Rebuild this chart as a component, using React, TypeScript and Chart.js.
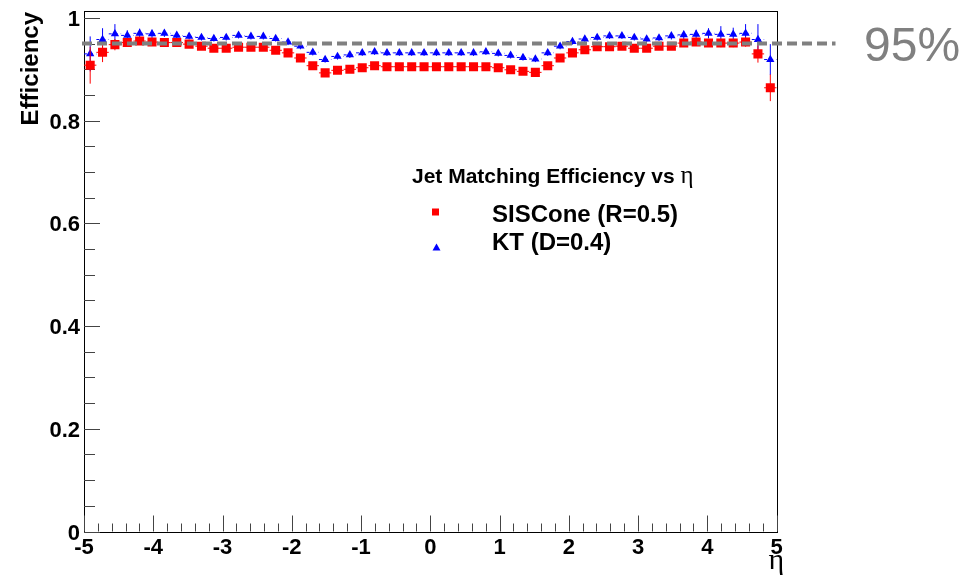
import React, { useEffect, useRef } from "react";
import { Chart, registerables } from "chart.js";

Chart.register(...registerables);

// ---- data ----
const etaCenters = [
  -4.9107, -4.7321, -4.5536, -4.375, -4.1964, -4.0179, -3.8393, -3.6607, -3.4821, -3.3036,
  -3.125, -2.9464, -2.7679, -2.5893, -2.4107, -2.2321, -2.0536, -1.875, -1.6964, -1.5179,
  -1.3393, -1.1607, -0.9821, -0.8036, -0.625, -0.4464, -0.2679, -0.0893, 0.0893, 0.2679,
  0.4464, 0.625, 0.8036, 0.9821, 1.1607, 1.3393, 1.5179, 1.6964, 1.875, 2.0536,
  2.2321, 2.4107, 2.5893, 2.7679, 2.9464, 3.125, 3.3036, 3.4821, 3.6607, 3.8393,
  4.0179, 4.1964, 4.375, 4.5536, 4.7321, 4.9107,
];
const binHalfWidth = 0.0893;

const sisconeEff = [
  0.908, 0.933, 0.948, 0.952, 0.955, 0.953, 0.952, 0.952, 0.949, 0.945,
  0.941, 0.941, 0.943, 0.943, 0.943, 0.937, 0.932, 0.922, 0.907, 0.893,
  0.898, 0.900, 0.903, 0.907, 0.905, 0.905, 0.905, 0.905, 0.905, 0.905,
  0.905, 0.905, 0.905, 0.903, 0.899, 0.896, 0.894, 0.907, 0.922, 0.932,
  0.938, 0.944, 0.944, 0.945, 0.941, 0.941, 0.945, 0.945, 0.951, 0.953,
  0.951, 0.951, 0.951, 0.953, 0.930, 0.864,
];
const sisconeErr = [
  0.036, 0.019, 0.011, 0.008, 0.007, 0.007, 0.006, 0.006, 0.006, 0.006,
  0.006, 0.006, 0.006, 0.006, 0.006, 0.006, 0.006, 0.006, 0.006, 0.006,
  0.006, 0.006, 0.006, 0.006, 0.006, 0.006, 0.006, 0.006, 0.006, 0.006,
  0.006, 0.006, 0.006, 0.006, 0.006, 0.006, 0.006, 0.006, 0.006, 0.006,
  0.006, 0.006, 0.006, 0.006, 0.006, 0.006, 0.006, 0.006, 0.007, 0.007,
  0.007, 0.008, 0.008, 0.009, 0.017, 0.026,
];

const ktEff = [
  0.930, 0.958, 0.969, 0.966, 0.970, 0.969, 0.970, 0.966, 0.964, 0.962,
  0.960, 0.962, 0.966, 0.964, 0.964, 0.960, 0.953, 0.945, 0.933, 0.919,
  0.925, 0.928, 0.932, 0.934, 0.932, 0.932, 0.932, 0.932, 0.932, 0.932,
  0.932, 0.932, 0.934, 0.931, 0.927, 0.923, 0.920, 0.932, 0.945, 0.954,
  0.959, 0.962, 0.965, 0.965, 0.962, 0.959, 0.961, 0.965, 0.967, 0.968,
  0.970, 0.968, 0.968, 0.970, 0.958, 0.919,
];
const ktErr = [
  0.034, 0.022, 0.019, 0.010, 0.009, 0.008, 0.007, 0.006, 0.006, 0.006,
  0.006, 0.006, 0.006, 0.006, 0.006, 0.006, 0.006, 0.006, 0.006, 0.006,
  0.006, 0.006, 0.006, 0.006, 0.006, 0.006, 0.006, 0.006, 0.006, 0.006,
  0.006, 0.006, 0.006, 0.006, 0.006, 0.006, 0.006, 0.006, 0.006, 0.006,
  0.006, 0.006, 0.006, 0.006, 0.006, 0.006, 0.006, 0.007, 0.008, 0.009,
  0.010, 0.016, 0.013, 0.018, 0.030, 0.030,
];

const xTickValues = [-5, -4, -3, -2, -1, 0, 1, 2, 3, 4, 5];
const xTickLabels = ["-5", "-4", "-3", "-2", "-1", "0", "1", "2", "3", "4", "5"];
const yTickValues = [0, 0.2, 0.4, 0.6, 0.8, 1];
const yTickLabels = ["0", "0.2", "0.4", "0.6", "0.8", "1"];

const referenceLevel = 0.95;
const referenceLabel = "95%";
const legendTitle = "Jet Matching Efficiency vs ";
const legendTitleGreek = "η";
const xAxisTitle = "η";
const yAxisTitle = "Efficiency";
const seriesNames = ["SISCone (R=0.5)", "KT (D=0.4)"];

const SANS = "'Liberation Sans', Arial, Helvetica, sans-serif";
const SERIF = "'Liberation Serif', 'DejaVu Serif', serif";

const rootPlugin = {
  id: "rootStyle",
  beforeDatasetsDraw(chart: any) {
    const { ctx, chartArea: a, scales } = chart;
    const xs = scales.x;
    const ys = scales.y;
    ctx.save();
    // frame
    ctx.strokeStyle = "#000";
    ctx.lineWidth = 1;
    ctx.strokeRect(Math.round(a.left) + 0.5, Math.round(a.top) + 0.5, Math.round(a.right - a.left), Math.round(a.bottom - a.top));
    // x ticks
    ctx.strokeStyle = "#444";
    for (let k = -25; k <= 25; k++) {
      const v = k * 0.2;
      const px = Math.round(xs.getPixelForValue(v)) + 0.5;
      const major = k % 5 === 0;
      const len = major ? 16 : 8;
      ctx.beginPath();
      ctx.moveTo(px, a.bottom);
      ctx.lineTo(px, a.bottom - len);
      ctx.stroke();
    }
    // y ticks
    for (let k = 0; k <= 20; k++) {
      const v = k * 0.05;
      const py = Math.round(ys.getPixelForValue(v)) + 0.5;
      const major = k % 4 === 0;
      const len = major ? 16 : 11;
      ctx.beginPath();
      ctx.moveTo(a.left, py);
      ctx.lineTo(a.left + len, py);
      ctx.stroke();
    }
    ctx.restore();
  },
  beforeDatasetDraw(chart: any, args: any) {
    const { ctx, scales } = chart;
    const xs = scales.x;
    const ys = scales.y;
    const ds = chart.data.datasets[args.index];
    const errs: number[] = ds.errors;
    ctx.save();
    ctx.strokeStyle = ds.borderColor;
    ctx.lineWidth = 1;
    ds.data.forEach((p: any, i: number) => {
      const x = xs.getPixelForValue(p.x);
      const xl = xs.getPixelForValue(p.x - binHalfWidth);
      const xr = xs.getPixelForValue(p.x + binHalfWidth);
      const y = ys.getPixelForValue(p.y);
      const yl = ys.getPixelForValue(p.y - errs[i]);
      const yh = ys.getPixelForValue(p.y + errs[i]);
      ctx.setLineDash(ds.errDash || []);
      ctx.beginPath();
      ctx.moveTo(xl, y);
      ctx.lineTo(xr, y);
      ctx.stroke();
      ctx.setLineDash([]);
      ctx.beginPath();
      ctx.moveTo(x, yh);
      ctx.lineTo(x, yl);
      ctx.stroke();
    });
    ctx.restore();
  },
  afterDatasetsDraw(chart: any) {
    const { ctx, chartArea: a, scales } = chart;
    const ys = scales.y;
    const py = ys.getPixelForValue(referenceLevel);
    ctx.save();
    ctx.strokeStyle = "#808080";
    ctx.lineWidth = 4;
    ctx.setLineDash([10, 5]);
    ctx.beginPath();
    ctx.moveTo(a.left - 2, py);
    ctx.lineTo(a.right + 59, py);
    ctx.stroke();
    ctx.restore();
  },
  afterDraw(chart: any) {
    const { ctx, chartArea: a } = chart;
    ctx.save();
    ctx.fillStyle = "#000";
    // y axis title
    ctx.save();
    ctx.translate(a.left - 46, a.top + 1);
    ctx.rotate(-Math.PI / 2);
    ctx.textAlign = "right";
    ctx.textBaseline = "alphabetic";
    ctx.font = `bold 24px ${SANS}`;
    ctx.fillText(yAxisTitle, 0, 0);
    ctx.restore();
    // x axis title
    ctx.font = `30px ${SERIF}`;
    ctx.textAlign = "left";
    ctx.textBaseline = "alphabetic";
    ctx.fillText(xAxisTitle, a.right - 8, 569);
    // legend
    ctx.font = `bold 21px ${SANS}`;
    ctx.fillText(legendTitle, 412, 183);
    const w = ctx.measureText(legendTitle).width;
    ctx.font = `25px ${SERIF}`;
    ctx.fillText(legendTitleGreek, 412 + w, 183);
    ctx.font = `bold 24px ${SANS}`;
    ctx.fillText(seriesNames[0], 492, 222);
    ctx.fillText(seriesNames[1], 492, 250);
    // legend markers
    ctx.fillStyle = chart.data.datasets[0].backgroundColor;
    ctx.fillRect(432, 208.5, 7, 7);
    ctx.fillStyle = chart.data.datasets[1].backgroundColor;
    ctx.beginPath();
    ctx.moveTo(436.5, 243.5);
    ctx.lineTo(440.5, 250.5);
    ctx.lineTo(432.5, 250.5);
    ctx.closePath();
    ctx.fill();
    // 95% label
    ctx.fillStyle = "#808080";
    ctx.font = `48px ${SANS}`;
    ctx.fillText(referenceLabel, 864, 61);
    ctx.restore();
  },
};

export default function App() {
  const ref = useRef<HTMLCanvasElement | null>(null);
  useEffect(() => {
    if (!ref.current) return;
    const chart = new Chart(ref.current, {
      type: "scatter",
      data: {
        datasets: [
          {
            label: seriesNames[0],
            data: etaCenters.map((x, i) => ({ x, y: sisconeEff[i] })),
            errors: sisconeErr,
            backgroundColor: "#ff0000",
            borderColor: "#ff0000",
            pointStyle: "rect",
            pointRadius: 6.4,
            pointBorderWidth: 0,
            showLine: false,
          } as any,
          {
            label: seriesNames[1],
            data: etaCenters.map((x, i) => ({ x, y: ktEff[i] })),
            errors: ktErr,
            errDash: [3, 3],
            backgroundColor: "#0000ff",
            borderColor: "#0000ff",
            pointStyle: "triangle",
            pointRadius: 4.8,
            pointBorderWidth: 0,
            showLine: false,
          } as any,
        ],
      },
      options: {
        animation: false,
        responsive: false,
        maintainAspectRatio: false,
        events: [],
        layout: { padding: { left: 0, top: 11, right: 198.5, bottom: 0 } },
        plugins: {
          legend: { display: false },
          tooltip: { enabled: false },
        },
        scales: {
          x: {
            type: "linear",
            min: -5,
            max: 5,
            grid: { display: false, drawTicks: false },
            border: { display: false },
            afterBuildTicks: (s: any) => {
              s.ticks = xTickValues.map((v) => ({ value: v }));
            },
            afterFit: (s: any) => {
              s.height = 46.5;
              s.paddingLeft = 0;
              s.paddingRight = 0;
            },
            ticks: {
              autoSkip: false,
              maxRotation: 0,
              minRotation: 0,
              padding: 3,
              color: "#000",
              font: { family: SANS, weight: "bold", size: 22 },
              callback: (v: any) => {
                const i = xTickValues.indexOf(Number(v));
                return i >= 0 ? xTickLabels[i] : "";
              },
            },
          },
          y: {
            type: "linear",
            min: 0,
            max: 1.0135,
            grid: { display: false, drawTicks: false },
            border: { display: false },
            afterBuildTicks: (s: any) => {
              s.ticks = yTickValues.map((v) => ({ value: v }));
            },
            afterFit: (s: any) => {
              s.width = 84;
              s.paddingTop = 0;
              s.paddingBottom = 0;
            },
            ticks: {
              autoSkip: false,
              padding: 4,
              labelOffset: 2,
              color: "#000",
              font: { family: SANS, weight: "bold", size: 22 },
              callback: (v: any) => {
                const i = yTickValues.findIndex((t) => Math.abs(t - Number(v)) < 1e-9);
                return i >= 0 ? yTickLabels[i] : "";
              },
            },
          },
        },
      } as any,
      plugins: [rootPlugin],
    });
    return () => chart.destroy();
  }, []);
  return (
    <div style={{ position: "absolute", left: 0, top: 0, width: 975, height: 578, background: "#fff" }}>
      <canvas ref={ref} width={975} height={578} style={{ display: "block" }} />
    </div>
  );
}
